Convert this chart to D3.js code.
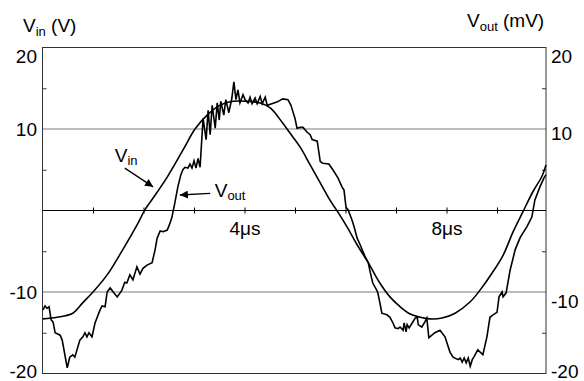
<!DOCTYPE html>
<html>
<head>
<meta charset="utf-8">
<script src="https://cdn.jsdelivr.net/npm/d3@7"></script>
<style>
  html, body { margin: 0; padding: 0; background: #fff; }
  text { font-family: "Liberation Sans", Arial, sans-serif; fill: #000; }
</style>
</head>
<body>
<div id="chart"></div>
<script>
// time in microseconds, input voltage in V
const vinTime = [0, 0.28, 0.59, 0.79, 0.99, 1.27, 1.58, 1.86, 2.02, 2.12, 2.46, 2.77, 3.01, 3.25, 3.5, 3.76,
  4.04, 4.3, 4.5, 4.75, 4.89, 5.09, 5.29, 5.49, 5.68, 5.84, 6.02, 6.22, 6.44, 6.67, 6.87, 7.07, 7.27,
  7.47, 7.66, 7.9, 8.16, 8.46, 8.65, 8.89, 9.11, 9.31, 9.5, 9.7, 9.88, 9.96];
const vinValue = [-13.3, -13.1, -12.6, -11.3, -10.0, -7.9, -4.8, -1.8, 0.1, 1.0, 4.1, 7.4, 10.0, 11.7, 12.9, 13.4,
  13.4, 13.2, 12.6, 10.7, 9.5, 7.8, 5.6, 3.4, 1.3, -0.2, -2.0, -4.2, -6.4, -8.9, -10.6, -11.8, -12.7,
  -13.1, -13.3, -13.2, -12.6, -11.2, -9.8, -7.7, -5.5, -2.6, -0.2, 2.3, 4.2, 5.6];

// output voltage in mV
const voutTime = [0, 0.04, 0.08, 0.12, 0.16, 0.2, 0.24, 0.34, 0.38, 0.48, 0.53, 0.59, 0.63, 0.73, 0.79, 0.83,
  0.87, 0.91, 0.97, 1.03, 1.13, 1.17, 1.23, 1.27, 1.33, 1.39, 1.47, 1.56, 1.62, 1.66, 1.72, 1.78, 1.86,
  1.92, 1.98, 2.06, 2.16, 2.22, 2.26, 2.3, 2.32, 2.38, 2.46, 2.5, 2.55, 2.61, 2.67, 2.73, 2.77, 2.81,
  2.87, 2.91, 2.95, 2.99, 3.03, 3.07, 3.11, 3.17, 3.23, 3.27, 3.31, 3.35, 3.41, 3.45, 3.49, 3.52, 3.58,
  3.62, 3.68, 3.74, 3.78, 3.82, 3.86, 3.9, 3.96, 4.0, 4.06, 4.1, 4.14, 4.2, 4.24, 4.3, 4.34, 4.4, 4.44,
  4.53, 4.63, 4.75, 4.85, 4.91, 4.95, 4.99, 5.03, 5.09, 5.15, 5.23, 5.29, 5.33, 5.43, 5.49, 5.54, 5.66,
  5.74, 5.84, 5.92, 5.96, 6.0, 6.04, 6.12, 6.16, 6.22, 6.28, 6.38, 6.44, 6.48, 6.53, 6.61, 6.63, 6.67,
  6.71, 6.81, 6.87, 6.93, 6.97, 7.03, 7.07, 7.13, 7.15, 7.19, 7.21, 7.25, 7.31, 7.37, 7.41, 7.43, 7.5,
  7.56, 7.6, 7.64, 7.76, 7.86, 7.96, 8.06, 8.12, 8.22, 8.26, 8.3, 8.34, 8.38, 8.42, 8.46, 8.5, 8.53,
  8.61, 8.71, 8.79, 8.85, 8.91, 8.99, 9.03, 9.09, 9.11, 9.17, 9.25, 9.35, 9.45, 9.58, 9.68, 9.74, 9.84,
  9.92, 9.96];
const voutValue = [-12.2, -11.7, -12.0, -11.8, -13.4, -13.7, -15.0, -15.3, -15.9, -19.3, -18.0, -17.7, -18.0,
  -15.9, -15.5, -15.0, -15.5, -15.0, -15.5, -13.8, -12.2, -11.7, -11.8, -10.0, -9.5, -10.0, -10.6, -9.8,
  -8.8, -8.9, -7.9, -8.5, -6.9, -7.8, -7.1, -6.7, -6.4, -4.8, -3.4, -2.8, -2.5, -2.6, -2.4, -1.8, -0.9,
  0.9, 2.9, 4.4, 5.0, 5.3, 5.2, 5.7, 5.2, 6.1, 5.2, 6.4, 5.3, 11.3, 8.7, 12.3, 9.3, 12.9, 10.1, 13.2,
  11.1, 13.4, 11.7, 13.6, 12.0, 13.8, 15.8, 13.6, 14.8, 13.2, 14.2, 13.6, 13.2, 13.9, 13.1, 13.8, 13.1,
  14.0, 13.1, 13.9, 12.9, 13.1, 13.3, 13.7, 13.6, 12.9, 12.1, 11.3, 10.1, 10.2, 10.2, 9.6, 9.3, 8.7,
  8.5, 6.0, 5.8, 5.7, 5.0, 4.0, 2.9, 2.5, 0.4, 0.1, -1.2, -2.0, -3.4, -4.2, -5.7, -6.4, -7.6, -8.9,
  -9.8, -10.1, -11.3, -12.6, -12.8, -13.1, -13.8, -14.4, -14.5, -14.3, -14.7, -13.8, -14.9, -14.0,
  -14.4, -13.8, -13.2, -13.1, -14.0, -14.3, -13.7, -13.2, -15.6, -15.0, -14.7, -15.5, -17.4, -18.0,
  -18.3, -18.1, -18.6, -18.1, -18.7, -18.1, -19.1, -18.3, -18.0, -17.1, -17.7, -15.5, -13.1, -12.8,
  -12.5, -10.6, -10.0, -10.6, -10.1, -7.3, -4.8, -3.3, -2.0, -0.8, 1.3, 2.9, 4.0, 4.4];

const yLabels = [20, 10, -10, -20];
const yMinorTicks = [15, 5, -5, -15];
const gridValues = [10, -10];
const xTicks = [1, 2, 3, 4, 5, 6, 7, 8, 9];
const xLabels = [4, 8];

const width = 584, height = 381;
const margin = {left: 42.5, right: 546, top: 47.5, bottom: 373.5};

const svg = d3.select("#chart").append("svg")
  .attr("width", width)
  .attr("height", height);

const x = d3.scaleLinear().domain([0, 9.96]).range([43, margin.right]);
const y = d3.scaleLinear().domain([-20, 20]).range([margin.bottom, margin.top]);

// grid lines at +-10
svg.selectAll(".grid")
  .data(gridValues)
  .enter()
  .append("line")
  .attr("x1", margin.left).attr("x2", margin.right)
  .attr("y1", d => y(d)).attr("y2", d => y(d))
  .attr("stroke", "#7a7a7a")
  .attr("stroke-width", 1.2);

// frame
svg.append("rect")
  .attr("x", margin.left).attr("y", margin.top)
  .attr("width", margin.right - margin.left).attr("height", margin.bottom - margin.top)
  .attr("fill", "none")
  .attr("stroke", "#333")
  .attr("stroke-width", 1);

// inner ticks on both sides
svg.append("g")
  .attr("transform", "translate(" + margin.left + ",0)")
  .call(d3.axisRight(y).tickValues(yMinorTicks).tickSize(4).tickFormat(""))
  .call(g => g.select(".domain").remove())
  .selectAll("line").attr("stroke", "#333");

svg.append("g")
  .attr("transform", "translate(" + margin.right + ",0)")
  .call(d3.axisLeft(y).tickValues(yMinorTicks).tickSize(4).tickFormat(""))
  .call(g => g.select(".domain").remove())
  .selectAll("line").attr("stroke", "#333");

// zero line with time ticks
svg.append("line")
  .attr("x1", margin.left).attr("x2", margin.right)
  .attr("y1", y(0)).attr("y2", y(0))
  .attr("stroke", "#000")
  .attr("stroke-width", 1.2);

svg.selectAll(".xtick")
  .data(xTicks)
  .enter()
  .append("line")
  .attr("x1", d => x(d)).attr("x2", d => x(d))
  .attr("y1", y(0) - 3).attr("y2", y(0) + 3)
  .attr("stroke", "#000");

svg.selectAll(".xlabel")
  .data(xLabels)
  .enter()
  .append("text")
  .attr("x", d => x(d))
  .attr("y", y(0) + 24)
  .attr("text-anchor", "middle")
  .style("font-size", "19px")
  .text(d => d + "μs");

// y tick labels, left and right
function leftShift(d) {
  if (d === 20) return 15;
  if (d === -20) return 4;
  return 7;
}
function rightShift(d) {
  if (d === 20) return 15;
  if (d === 10) return 11;
  if (d === -10) return 16;
  return 4;
}

svg.selectAll(".ylab-l")
  .data(yLabels)
  .enter()
  .append("text")
  .attr("x", 37)
  .attr("y", d => y(d) + leftShift(d))
  .attr("text-anchor", "end")
  .style("font-size", "19px")
  .text(d => d);

svg.selectAll(".ylab-r")
  .data(yLabels)
  .enter()
  .append("text")
  .attr("x", 551)
  .attr("y", d => y(d) + rightShift(d))
  .attr("text-anchor", "start")
  .style("font-size", "19px")
  .text(d => d);

// axis titles
const tl = svg.append("text").attr("x", 23).attr("y", 32).style("font-size", "19px");
tl.append("tspan").text("V");
tl.append("tspan").attr("dy", 4).style("font-size", "13px").text("in");
tl.append("tspan").attr("dy", -4).text(" (V)");

const tr = svg.append("text").attr("x", 467).attr("y", 27).style("font-size", "19px");
tr.append("tspan").text("V");
tr.append("tspan").attr("dy", 4).style("font-size", "13px").text("out");
tr.append("tspan").attr("dy", -4).text(" (mV)");

// curves
const line = d3.line()
  .x(d => x(d[0]))
  .y(d => y(d[1]));

svg.append("path")
  .datum(d3.zip(vinTime, vinValue))
  .attr("d", line.curve(d3.curveCatmullRom.alpha(0.5)))
  .attr("fill", "none")
  .attr("stroke", "#000")
  .attr("stroke-width", 1.6);

svg.append("path")
  .datum(d3.zip(voutTime, voutValue))
  .attr("d", line.curve(d3.curveLinear))
  .attr("fill", "none")
  .attr("stroke", "#000")
  .attr("stroke-width", 1.6)
  .attr("stroke-linejoin", "miter");

// annotations
svg.append("defs").append("marker")
  .attr("id", "head")
  .attr("viewBox", "0 0 10 10")
  .attr("refX", 10).attr("refY", 5)
  .attr("markerWidth", 10).attr("markerHeight", 8)
  .attr("markerUnits", "userSpaceOnUse")
  .attr("orient", "auto")
  .append("path")
  .attr("d", "M0,0L10,5L0,10Z")
  .attr("fill", "#000");

svg.append("line")
  .attr("x1", x(1.62)).attr("y1", y(5.2))
  .attr("x2", x(2.18)).attr("y2", y(2.9))
  .attr("stroke", "#000").attr("stroke-width", 1.3)
  .attr("marker-end", "url(#head)");

svg.append("line")
  .attr("x1", x(3.31)).attr("y1", y(2.1))
  .attr("x2", x(2.71)).attr("y2", y(1.9))
  .attr("stroke", "#000").attr("stroke-width", 1.3)
  .attr("marker-end", "url(#head)");

const la = svg.append("text").attr("x", x(1.42)).attr("y", y(5.9)).style("font-size", "19px");
la.append("tspan").text("V");
la.append("tspan").attr("dy", 3).style("font-size", "13px").text("in");

const lb = svg.append("text").attr("x", x(3.4)).attr("y", y(1.6)).style("font-size", "19px");
lb.append("tspan").text("V");
lb.append("tspan").attr("dy", 3).style("font-size", "13px").text("out");
</script>
</body>
</html>
